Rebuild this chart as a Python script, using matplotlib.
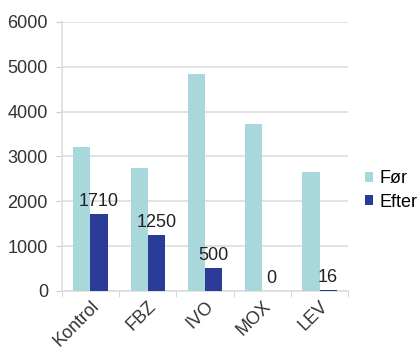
import matplotlib
matplotlib.use("Agg")
import matplotlib.pyplot as plt
import numpy as np

plt.rcParams['font.family'] = ['Liberation Sans', 'DejaVu Sans']

categories = ["Kontrol", "FBZ", "IVO", "MOX", "LEV"]
foer = [3200, 2750, 4830, 3730, 2660]
efter = [1710, 1250, 500, 0, 16]
series_names = ["Før", "Efter"]
yticks = [0, 1000, 2000, 3000, 4000, 5000, 6000]

c_light = "#a9d8dc"
c_dark = "#2a3c97"
fs = 13

fig = plt.figure(figsize=(4.18, 3.53), dpi=100)
ax = fig.add_axes([0.148, 0.176, 0.685, 0.762])

x = np.arange(len(categories))
w = 0.3
b1 = ax.bar(x - w/2, foer, w, color=c_light, label=series_names[0], zorder=3)
b2 = ax.bar(x + w/2, efter, w, color=c_dark, label=series_names[1], zorder=3)

for xi, v in zip(x, efter):
    ax.annotate(str(v), (xi + w/2, v), xytext=(0, 3), textcoords="offset points",
                ha="center", va="bottom", fontsize=fs, color="#222222")

ax.set_xlim(-0.5, len(categories) - 0.5)
ax.set_ylim(0, 6000)
ax.set_yticks(yticks)
ax.set_yticklabels([str(t) for t in yticks], fontsize=fs, color="#333333")
ax.yaxis.grid(True, color="#dddddd", linewidth=1.2, zorder=0)
ax.set_axisbelow(True)

ax.set_xticks(x)
ax.set_xticklabels(categories, rotation=45, ha="right", rotation_mode="anchor",
                   fontsize=fs, color="#333333")
ax.tick_params(axis="x", length=0, pad=5)
ax.set_xticks(np.arange(-0.5, len(categories)), minor=True)
ax.tick_params(axis="x", which="minor", length=4, color="#cccccc")
ax.tick_params(axis="y", length=4, color="#cccccc", pad=6)

for s in ["top", "right"]:
    ax.spines[s].set_visible(False)
ax.spines["left"].set_color("#dddddd")
ax.spines["bottom"].set_color("#dddddd")
ax.spines["left"].set_linewidth(1.2)
ax.spines["bottom"].set_linewidth(1.2)

leg = fig.legend(handles=[b1, b2], loc="center left", bbox_to_anchor=(0.873, 0.46),
                 frameon=False, fontsize=fs, handlelength=0.45, handleheight=0.45,
                 handletextpad=0.35, labelspacing=0.35, borderaxespad=0, borderpad=0)

fig.savefig("out.png", dpi=100)
